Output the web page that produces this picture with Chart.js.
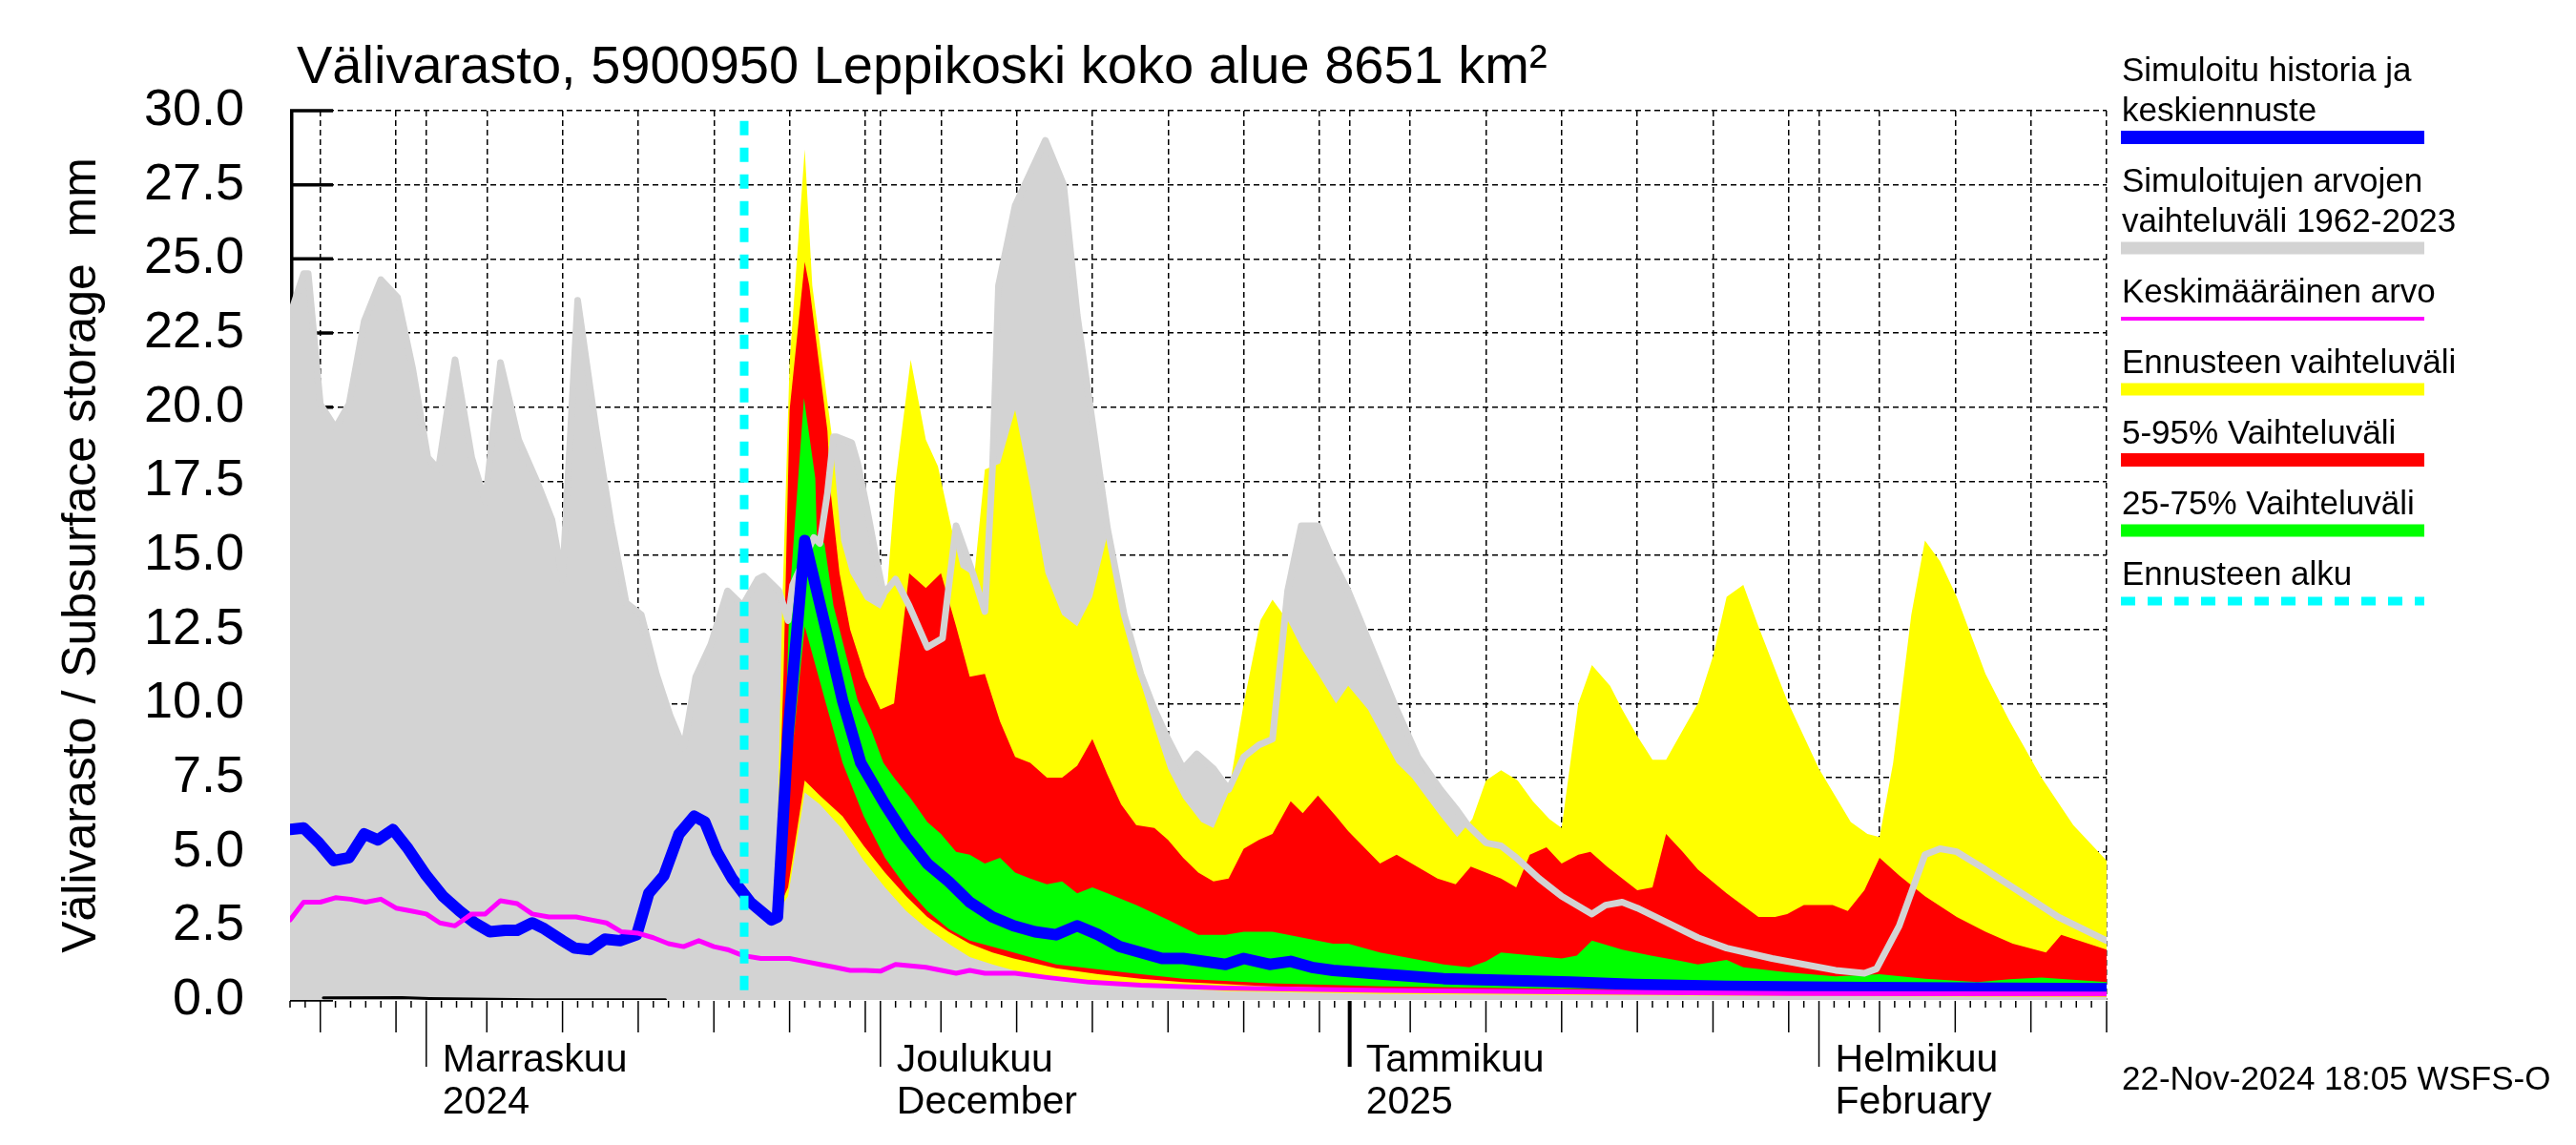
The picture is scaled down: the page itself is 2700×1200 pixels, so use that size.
<!DOCTYPE html>
<html>
<head>
<meta charset="utf-8">
<title>Välivarasto, 5900950 Leppikoski koko alue</title>
<script src="https://cdn.jsdelivr.net/npm/chart.js@4.4.1/dist/chart.umd.min.js"></script>
<style>
  html, body { margin: 0; padding: 0; background: #fff; }
</style>
</head>
<body>
<canvas id="chart" width="2700" height="1200"></canvas>
<script>
// x values are days counted from 1 Nov 2024 (day 0); axis runs 23 Oct 2024 .. 20 Feb 2025
const dayMin = -9;
const dayMax = 111;
const yMax = 30;
const yStep = 2.5;

const monthDays = [0, 30, 61, 92];
const monthNames = ['Marraskuu', 'Joulukuu', 'Tammikuu', 'Helmikuu'];
const monthSubs = ['2024', 'December', '2025', 'February'];

// historical range 1962-2023, upper edge
const histMax = [[-9.0, 23.1], [-8.1, 24.5], [-7.8, 24.5], [-7.0, 20.1], [-6.0, 19.3], [-5.1, 20.1], [-4.1, 22.9], [-3.0, 24.3],
  [-1.9, 23.7], [-0.9, 21.3], [0.1, 18.3], [0.8, 17.9], [1.9, 21.6], [3.0, 18.3], [3.9, 16.8], [4.9, 21.5], [6.1, 18.9],
  [7.3, 17.5], [8.3, 16.2], [9.0, 14.2], [10.0, 23.6], [11.2, 19.3], [12.2, 16.1], [13.2, 13.4], [14.2, 13.0], [15.2, 11.0],
  [16.1, 9.6], [17.0, 8.5], [17.8, 10.9], [18.8, 12.0], [19.9, 13.8], [20.9, 13.3], [21.9, 14.2], [22.3, 14.3], [23.3, 13.8],
  [23.9, 12.8], [24.2, 14.0], [25.6, 15.6], [26.0, 15.4], [26.5, 17.1], [26.9, 19.0], [27.1, 19.0], [28.1, 18.8], [28.5, 18.1],
  [29.1, 16.6], [29.8, 14.7], [30.2, 13.7], [31.0, 14.2], [31.9, 13.3], [33.1, 11.9], [34.1, 12.2], [35.0, 16.0], [36.1, 14.4],
  [36.9, 13.1], [37.4, 17.9], [37.8, 24.1], [38.9, 26.8], [39.9, 27.9],
  [40.9, 29.0], [42.1, 27.5], [43.0, 23.1], [44.0, 19.5], [45.0, 15.9], [46.1, 13.0], [47.2, 11.0], [48.1, 9.8], [49.0, 8.8],
  [50.0, 7.8], [50.9, 8.3], [52.0, 7.8], [53.0, 7.1], [54.0, 8.2], [55.0, 8.6], [55.9, 8.8], [56.9, 13.8], [57.8, 16.0],
  [58.9, 16.0], [59.9, 14.8], [60.9, 13.8], [62.5, 11.8], [64.1, 9.8], [65.5, 8.2], [67.0, 7.1], [68.1, 6.4], [68.8, 5.9],
  [70.0, 5.3], [71.0, 5.2], [72.0, 4.8], [73.5, 4.1], [75.0, 3.5], [77.0, 2.9], [77.9, 3.2], [79.0, 3.3], [80.0, 3.1],
  [82.0, 2.6], [84.0, 2.1], [85.9, 1.75], [88.9, 1.4], [91.0, 1.2], [93.1, 1.0], [95.0, 0.9], [95.8, 1.05], [97.3, 2.5],
  [99.0, 4.9], [100.0, 5.1], [101.1, 5.0], [103.0, 4.4], [105.7, 3.5], [107.8, 2.8], [111.0, 2.0]];

// lowest simulated values before the forecast
const histMinLine = [[-6.8, 0.07], [-1.6, 0.08], [0.2, 0.05], [3.1, 0.03], [7.2, 0.01], [15.8, 0.01]];

// forecast range (min..max)
const fcMax = [[23.1, 2.9], [23.5, 13.0], [24.0, 21.5], [25.0, 28.7], [25.5, 24.1], [26.8, 19.0], [27.4, 15.5], [28.0, 14.4],
  [29.0, 13.5], [30.0, 13.2], [30.4, 13.6], [31.0, 17.5], [32.0, 21.6], [33.0, 18.9], [33.8, 18.0], [34.7, 15.9], [35.3, 14.6],
  [36.2, 14.3], [36.9, 17.9], [37.9, 18.1], [38.9, 19.9], [39.9, 17.3], [40.9, 14.4], [42.0, 13.0], [43.0, 12.6], [44.0, 13.6],
  [45.0, 15.7], [45.9, 13.4], [46.9, 11.2], [48.1, 9.2], [49.0, 7.8], [50.0, 6.8], [51.2, 6.0], [52.0, 5.8], [53.0, 7.0],
  [54.0, 10.0], [55.1, 12.8], [55.9, 13.5], [56.9, 12.8], [57.9, 11.8], [58.9, 11.0], [60.1, 10.0], [60.9, 10.6], [62.2, 9.8],
  [64.1, 8.0], [65.1, 7.5], [67.0, 6.2], [68.1, 5.5], [69.1, 6.1], [70.0, 7.4], [71.0, 7.75], [72.1, 7.4], [73.1, 6.7],
  [74.2, 6.1], [75.0, 5.8], [76.1, 10.0], [77.0, 11.3], [78.2, 10.6], [79.0, 9.8], [80.0, 8.9], [81.0, 8.1], [81.9, 8.1],
  [83.0, 9.1], [84.0, 10.0], [85.0, 11.6], [85.9, 13.6], [87.0, 14.0], [88.0, 12.6], [89.9, 10.1], [92.0, 7.8], [94.1, 6.0],
  [95.2, 5.6], [96.0, 5.5], [96.9, 8.0], [98.1, 13.0], [99.0, 15.5], [100.0, 14.8], [101.1, 13.6], [103.0, 11.0], [104.6, 9.4],
  [106.7, 7.5], [108.8, 5.9], [111.0, 4.7]];
const fcMin = [[23.1, 2.9], [23.9, 3.5], [25.0, 7.0], [26.0, 6.6], [27.5, 5.75], [28.9, 4.7], [30.3, 3.8], [31.7, 3.0],
  [33.1, 2.4], [34.5, 1.9], [35.9, 1.45], [37.4, 1.2], [38.8, 1.0], [41.6, 0.76], [44.4, 0.6], [47.2, 0.46], [52.8, 0.3],
  [63.2, 0.2], [80.0, 0.15], [111.0, 0.1]];

// 5-95 % range
const p95 = [[23.1, 2.9], [23.6, 11.0], [24.0, 19.9], [25.0, 24.9], [25.3, 24.1], [26.5, 19.2], [26.7, 17.2], [27.3, 14.4],
  [28.0, 12.5], [29.0, 10.9], [30.0, 9.8], [30.9, 10.0], [31.9, 14.4], [33.0, 13.9], [34.0, 14.4], [35.0, 12.6], [35.9, 10.9],
  [36.9, 11.0], [37.9, 9.4], [38.9, 8.2], [39.9, 8.0], [41.0, 7.5], [42.0, 7.5], [43.0, 7.9], [44.0, 8.8], [45.0, 7.6],
  [45.9, 6.6], [46.9, 5.9], [48.1, 5.8], [49.0, 5.4], [50.0, 4.8], [51.0, 4.3], [52.0, 4.0], [53.0, 4.1], [54.0, 5.1],
  [55.0, 5.4], [55.9, 5.6], [57.1, 6.7], [57.9, 6.3], [58.9, 6.9], [60.1, 6.2], [60.9, 5.7], [63.0, 4.6], [64.1, 4.9],
  [65.1, 4.6], [66.8, 4.1], [68.0, 3.9], [69.0, 4.5], [71.0, 4.1], [72.0, 3.8], [72.9, 4.9], [74.0, 5.15], [75.0, 4.6],
  [76.1, 4.9], [76.9, 5.0], [78.0, 4.5], [80.0, 3.7], [81.0, 3.8], [81.9, 5.6], [83.0, 5.0], [84.0, 4.4], [85.9, 3.6],
  [88.0, 2.8], [89.1, 2.8], [89.9, 2.9], [91.0, 3.2], [92.9, 3.2], [93.9, 3.0], [95.0, 3.7], [96.0, 4.8], [97.3, 4.2],
  [99.0, 3.5], [101.1, 2.8], [103.0, 2.3], [104.8, 1.9], [107.0, 1.6], [108.0, 2.2], [111.0, 1.7]];
const p05 = [[23.1, 2.9], [23.9, 3.8], [25.0, 7.4], [26.0, 6.9], [27.5, 6.2], [28.9, 5.2], [30.3, 4.3], [31.7, 3.5],
  [33.1, 2.8], [34.5, 2.3], [35.9, 1.9], [37.4, 1.6], [38.8, 1.4], [41.6, 1.07], [44.4, 0.87], [47.2, 0.72], [50.0, 0.6],
  [55.7, 0.46], [63.2, 0.36], [75.0, 0.3], [90.0, 0.25], [111.0, 0.22]];

// 25-75 % range
const p75 = [[23.1, 2.9], [23.6, 7.0], [24.0, 13.6], [24.95, 20.3], [25.7, 17.6], [25.8, 15.7], [26.3, 15.4], [26.9, 13.3],
  [28.5, 10.1], [29.4, 9.1], [30.2, 8.0], [30.9, 7.5], [32.0, 6.8], [33.1, 6.0], [34.0, 5.6], [35.0, 5.0], [35.9, 4.9],
  [36.9, 4.6], [37.9, 4.8], [38.9, 4.3], [39.9, 4.1], [41.0, 3.9], [42.0, 4.0], [43.0, 3.6], [44.0, 3.8], [45.0, 3.6],
  [46.9, 3.2], [49.0, 2.7], [51.0, 2.2], [52.8, 2.2], [54.0, 2.3], [55.9, 2.3], [57.9, 2.1], [59.9, 1.9], [60.9, 1.9],
  [63.0, 1.6], [65.1, 1.4], [67.2, 1.2], [68.9, 1.1], [70.0, 1.3], [71.0, 1.6], [73.1, 1.5], [75.0, 1.4], [76.0, 1.5],
  [77.0, 2.0], [79.0, 1.7], [80.9, 1.5], [83.0, 1.3], [84.0, 1.2], [85.9, 1.35], [87.0, 1.1], [89.9, 0.93], [93.1, 0.8],
  [96.0, 0.87], [99.0, 0.72], [102.5, 0.6], [104.6, 0.7], [106.7, 0.76], [111.0, 0.6]];
const p25 = [[23.1, 2.9], [24.0, 7.5], [25.0, 12.6], [26.4, 10.0], [27.5, 8.0], [28.9, 6.2], [30.3, 4.8], [31.7, 3.8],
  [33.1, 3.0], [34.5, 2.4], [35.9, 2.0], [38.8, 1.6], [41.6, 1.2], [44.4, 1.03], [47.2, 0.87], [50.0, 0.72], [55.7, 0.56],
  [63.2, 0.46], [75.0, 0.38], [90.0, 0.32], [111.0, 0.28]];

// simulated history + median forecast
const median = [[-9.0, 5.75], [-8.1, 5.8], [-7.1, 5.3], [-6.1, 4.7], [-5.1, 4.8], [-4.1, 5.6], [-3.2, 5.4], [-2.2, 5.75],
  [-1.2, 5.1], [0.0, 4.2], [1.1, 3.5], [2.2, 3.0], [3.2, 2.6], [4.2, 2.3], [5.2, 2.35], [6.0, 2.35], [7.0, 2.6], [7.8, 2.4],
  [9.0, 2.0], [9.8, 1.75], [10.8, 1.7], [11.8, 2.05], [12.8, 2.0], [13.9, 2.2], [14.7, 3.6], [15.7, 4.2], [16.7, 5.6],
  [17.7, 6.2], [18.4, 6.0], [19.2, 5.0], [20.2, 4.1], [21.4, 3.3], [22.8, 2.7], [23.2, 2.8], [23.9, 9.0], [25.0, 15.5],
  [26.5, 12.3], [27.5, 10.1], [28.7, 8.0], [30.3, 6.6], [31.7, 5.5], [33.1, 4.6], [34.5, 4.0], [35.9, 3.3],
  [37.4, 2.8], [38.8, 2.5], [40.2, 2.3], [41.6, 2.2], [43.0, 2.5], [44.4, 2.2], [45.8, 1.8], [47.2, 1.6], [48.6, 1.4],
  [50.0, 1.4], [52.8, 1.2], [54.0, 1.4], [55.7, 1.2], [57.1, 1.3], [58.5, 1.1], [59.9, 1.0], [63.2, 0.87], [67.2, 0.72],
  [71.4, 0.66], [75.6, 0.6], [79.8, 0.52], [85.9, 0.46], [95.0, 0.42], [111.0, 0.38]];

// long-term mean
const meanLine = [[-9.0, 2.7], [-8.1, 3.3], [-7.0, 3.3], [-6.0, 3.45], [-5.0, 3.4], [-4.0, 3.3], [-3.0, 3.4], [-2.0, 3.1],
  [-1.0, 3.0], [0.0, 2.9], [0.9, 2.6], [1.9, 2.5], [3.0, 2.9], [3.9, 2.9], [4.9, 3.35], [6.0, 3.25], [7.0, 2.9], [8.1, 2.8],
  [9.1, 2.8], [9.9, 2.8], [10.9, 2.7], [11.9, 2.6], [12.9, 2.3], [14.0, 2.25], [15.0, 2.1], [16.0, 1.9], [17.0, 1.8],
  [18.0, 2.0], [19.0, 1.8], [19.9, 1.7], [20.9, 1.5], [22.1, 1.4], [24.0, 1.4], [25.0, 1.3], [26.0, 1.2], [27.0, 1.1],
  [28.0, 1.0], [29.0, 1.0], [30.0, 0.97], [31.0, 1.2], [33.0, 1.1], [35.0, 0.9], [35.9, 1.0], [36.9, 0.9], [38.9, 0.9],
  [41.0, 0.76], [43.8, 0.6], [47.2, 0.5], [52.8, 0.4], [63.2, 0.32], [75.0, 0.27], [90.0, 0.22], [111.0, 0.2]];

// forecast start 22-Nov-2024
const forecastStart = [[21, 29.65], [21, 0.1]];

const legendLabels = [
  ['Simuloitu historia ja', 'keskiennuste'],
  ['Simuloitujen arvojen', 'vaihteluväli 1962-2023'],
  ['Keskimääräinen arvo'],
  ['Ennusteen vaihteluväli'],
  ['5-95% Vaihteluväli'],
  ['25-75% Vaihteluväli'],
  ['Ennusteen alku']
];

const FONT = "'Liberation Sans', Arial, sans-serif";
const GRAY = '#d3d3d3';

const dateOf = d => new Date(Date.UTC(2024, 10, 1 + d));
const isGridDay = d => {
    const dd = dateOf(d).getUTCDate();
    return dd === 1 || dd % 5 === 0;
};
const allDays = [];
for (let d = dayMin; d <= dayMax; d++) allDays.push(d);

const line = (label, data, color, width, order, extra = {}) => ({
    label, data, order,
    borderColor: color, borderWidth: width,
    borderJoinStyle: 'round', borderCapStyle: 'round',
    pointRadius: 0, tension: 0, fill: false, clip: 0,
    ...extra
});
const bandEdge = (label, data, color, order, fill) => ({
    label, data, order,
    borderColor: 'rgba(0,0,0,0)', borderWidth: 0,
    backgroundColor: color, fill,
    pointRadius: 0, tension: 0, clip: 0
});

const datasets = [
    line('Ennusteen alku', forecastStart, '#00ffff', 9, 0, { borderDash: [15, 13], borderCapStyle: 'butt' }),
    line('Keskimääräinen arvo', meanLine, '#ff00ff', 5, 1),
    line('Simuloitu historia ja keskiennuste', median, '#0000ff', 12, 2),
    line('min', histMinLine, '#000000', 3, 3),
    line('max', histMax, GRAY, 7, 4),
    bandEdge('25-75% Vaihteluväli', p75, '#00ff00', 5, '+1'),
    bandEdge('25%', p25, 'rgba(0,0,0,0)', 6, false),
    bandEdge('5-95% Vaihteluväli', p95, '#ff0000', 7, '+1'),
    bandEdge('5%', p05, 'rgba(0,0,0,0)', 8, false),
    bandEdge('Ennusteen vaihteluväli', fcMax, '#ffff00', 9, '+1'),
    bandEdge('min', fcMin, 'rgba(0,0,0,0)', 10, false),
    bandEdge('Simuloitujen arvojen vaihteluväli 1962-2023', histMax, GRAY, 11, 'origin')
];

// y axis line and inward ticks sit under the data, like in the original
const yAxisUnder = {
    id: 'yAxisUnder',
    beforeDatasetsDraw(chart) {
        const { ctx, chartArea: a, scales: { y } } = chart;
        ctx.save();
        ctx.strokeStyle = '#000';
        ctx.lineWidth = 3.5;
        ctx.beginPath();
        ctx.moveTo(a.left + 1.75, a.top);
        ctx.lineTo(a.left + 1.75, a.bottom);
        y.ticks.forEach(t => {
            const py = y.getPixelForValue(t.value);
            ctx.moveTo(a.left, py);
            ctx.lineTo(a.left + 45, py);
        });
        ctx.stroke();
        ctx.restore();
    }
};

const decorations = {
    id: 'decorations',
    afterDraw(chart) {
        const { ctx, chartArea: a, scales: { x } } = chart;
        ctx.save();
        ctx.strokeStyle = '#000';
        ctx.lineCap = 'butt';
        allDays.forEach(d => {
            const px = x.getPixelForValue(d);
            const date = dateOf(d);
            let len = 7, w = 1.5;
            if (date.getUTCDate() === 1) {
                len = 69;
                if (date.getUTCMonth() === 0) w = 4;
            } else if (date.getUTCDate() % 5 === 0) {
                len = 33;
            }
            ctx.lineWidth = w;
            ctx.beginPath();
            ctx.moveTo(px, a.bottom + 1);
            ctx.lineTo(px, a.bottom + 1 + len);
            ctx.stroke();
        });

        ctx.fillStyle = '#000';
        ctx.textAlign = 'left';
        ctx.textBaseline = 'alphabetic';
        ctx.font = `41px ${FONT}`;
        monthDays.forEach((d, i) => {
            const px = x.getPixelForValue(d) + 17;
            ctx.fillText(monthNames[i], px, a.bottom + 75);
            ctx.fillText(monthSubs[i], px, a.bottom + 119);
        });

        ctx.font = `56px ${FONT}`;
        ctx.fillText('Välivarasto, 5900950 Leppikoski koko alue 8651 km²', 311, 87);

        // legend
        const styles = [
            { color: '#0000ff', width: 14 },
            { color: GRAY, width: 13 },
            { color: '#ff00ff', width: 4 },
            { color: '#ffff00', width: 13 },
            { color: '#ff0000', width: 14 },
            { color: '#00ff00', width: 13 },
            { color: '#00ffff', width: 9, dash: [15, 13] }
        ];
        const lx = a.right + 15;
        let yb = 85;
        ctx.font = `35px ${FONT}`;
        legendLabels.forEach((lines, i) => {
            lines.forEach((t, j) => ctx.fillText(t, lx + 1, yb + j * 42));
            const barY = yb + (lines.length - 1) * 42 + 17;
            ctx.strokeStyle = styles[i].color;
            ctx.lineWidth = styles[i].width;
            ctx.setLineDash(styles[i].dash || []);
            ctx.beginPath();
            ctx.moveTo(lx, barY);
            ctx.lineTo(lx + 318, barY);
            ctx.stroke();
            ctx.setLineDash([]);
            yb = barY + 57;
        });

        ctx.fillText('22-Nov-2024 18:05 WSFS-O', lx + 1, 1142);
        ctx.restore();
    }
};

new Chart(document.getElementById('chart'), {
    type: 'line',
    data: { datasets },
    options: {
        responsive: false,
        animation: false,
        devicePixelRatio: 1,
        events: [],
        layout: { padding: { top: 116, right: 492, left: 0, bottom: 0 } },
        plugins: {
            legend: { display: false },
            tooltip: { enabled: false }
        },
        scales: {
            x: {
                type: 'linear',
                min: dayMin,
                max: dayMax,
                z: 1,
                afterBuildTicks: s => { s.ticks = allDays.map(v => ({ value: v })); },
                afterFit: s => { s.height = 152; },
                ticks: { display: false },
                grid: {
                    color: c => (c.tick && isGridDay(c.tick.value)) ? '#000' : 'rgba(0,0,0,0)',
                    lineWidth: 1.5,
                    drawTicks: false
                },
                border: { display: false, dash: [6, 4] }
            },
            y: {
                min: 0,
                max: yMax,
                z: 1,
                afterFit: s => { s.width = 304; },
                ticks: {
                    stepSize: yStep,
                    autoSkip: false,
                    padding: 48,
                    color: '#000',
                    font: { family: FONT, size: 54 },
                    callback: v => v.toFixed(1)
                },
                grid: {
                    color: c => (c.tick && c.tick.value === 0) ? 'rgba(0,0,0,0)' : '#000',
                    lineWidth: 1.5,
                    drawTicks: false
                },
                border: { display: false, dash: [6, 4] },
                title: {
                    display: true,
                    text: 'Välivarasto / Subsurface storage  mm',
                    color: '#000',
                    font: { family: FONT, size: 50, lineHeight: 1 },
                    padding: { top: 61, bottom: 0 }
                }
            }
        }
    },
    plugins: [yAxisUnder, decorations]
});
</script>
</body>
</html>
